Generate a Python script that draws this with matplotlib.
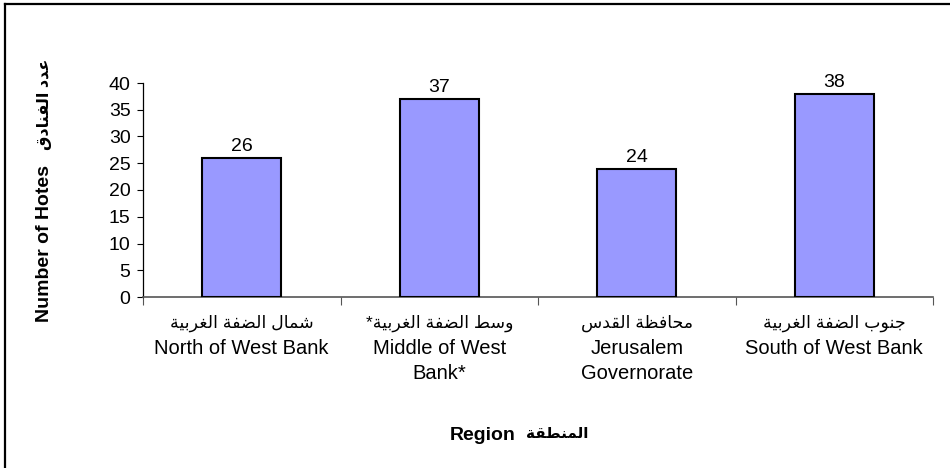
import matplotlib
matplotlib.use("Agg")
import matplotlib.pyplot as plt
from matplotlib.lines import Line2D

# Data
regions_ar = ["شمال الضفة الغربية", "وسط الضفة الغربية*", "محافظة القدس", "جنوب الضفة الغربية"]
regions_en = ["North of West Bank", "Middle of West\nBank*", "Jerusalem\nGovernorate", "South of West Bank"]
hotels = [26, 37, 24, 38]
y_ticks = [0, 5, 10, 15, 20, 25, 30, 35, 40]
ylabel_en = "Number of Hotes"
ylabel_ar = "عدد الفنادق"
xlabel_en = "Region"
xlabel_ar = "المنطقة"

# Arabic presentation forms: base isolated codepoint, dual-joining flag
FORMS = {
    "ا": (0xFE8D, False), "ب": (0xFE8F, True), "ة": (0xFE93, False),
    "ت": (0xFE95, True), "ج": (0xFE9D, True), "ح": (0xFEA1, True),
    "د": (0xFEA9, False), "ر": (0xFEAD, False), "س": (0xFEB1, True),
    "ش": (0xFEB5, True), "ض": (0xFEBD, True), "ط": (0xFEC1, True),
    "ظ": (0xFEC5, True), "ع": (0xFEC9, True), "غ": (0xFECD, True),
    "ف": (0xFED1, True), "ق": (0xFED5, True), "ل": (0xFEDD, True),
    "م": (0xFEE1, True), "ن": (0xFEE5, True), "و": (0xFEED, False),
    "ي": (0xFEF1, True),
}


def shape_ar(text):
    out = []
    for i, ch in enumerate(text):
        if ch not in FORMS:
            out.append(ch)
            continue
        base, dual = FORMS[ch]
        prev = text[i - 1] if i > 0 else ""
        nxt = text[i + 1] if i + 1 < len(text) else ""
        join_prev = prev in FORMS and FORMS[prev][1]
        join_next = dual and nxt in FORMS
        if join_prev and join_next:
            code = base + 3
        elif join_next:
            code = base + 2
        elif join_prev:
            code = base + 1
        else:
            code = base
        out.append(chr(code))
    return "".join(out)[::-1]


FONT = ["Liberation Sans", "DejaVu Sans"]
plt.rcParams["font.family"] = FONT

fig = plt.figure(figsize=(9.5, 4.68), dpi=100)
ax = fig.add_axes([143 / 950, 171 / 468, 790 / 950, 214 / 468])

x = list(range(len(hotels)))
ax.bar(x, hotels, width=0.4, color="#9999FF", edgecolor="black", linewidth=1.5, zorder=3)
for xi, v in zip(x, hotels):
    ax.annotate(str(v), (xi, v), xytext=(0, 2), textcoords="offset points",
                ha="center", va="bottom", fontsize=14)

ax.set_xlim(-0.5, len(hotels) - 0.5)
ax.set_ylim(0, 40)
ax.set_yticks(y_ticks)
ax.tick_params(axis="y", labelsize=14, direction="out", length=4, width=0.8, pad=5)
ax.set_xticks([i - 0.5 for i in range(len(hotels) + 1)])
ax.set_xticklabels([])
ax.tick_params(axis="x", direction="out", length=6, width=0.8, colors="#555555")

for side in ["top", "right"]:
    ax.spines[side].set_visible(False)
ax.spines["left"].set_linewidth(0.9)
ax.spines["bottom"].set_color("#555555")
ax.spines["bottom"].set_linewidth(1.2)

# Category labels: Arabic line over English lines
trans = ax.get_xaxis_transform()
for xi, ar, en in zip(x, regions_ar, regions_en):
    ax.text(xi, -26 / 214, shape_ar(ar), transform=trans, ha="center", va="center",
            fontsize=12.5)
    ax.text(xi, -42 / 214, en, transform=trans, ha="center", va="top",
            fontsize=14.5, linespacing=1.4)

# Axis titles: bold English with the Arabic title next to it
fig.text(45 / 950, 1 - 243 / 468, ylabel_en, rotation=90,
         ha="center", va="center", fontsize=14, fontweight="bold")
fig.text(44 / 950, 1 - 104 / 468, shape_ar(ylabel_ar), rotation=90,
         ha="center", va="center", fontsize=11.5, fontweight="bold")
fig.text(516 / 950, 1 - 436 / 468, xlabel_en,
         ha="right", va="center", fontsize=14, fontweight="bold")
fig.text(526 / 950, 1 - 434 / 468, shape_ar(xlabel_ar),
         ha="left", va="center", fontsize=11, fontweight="bold")

# Chart frame on the left and top edges
fig.add_artist(Line2D([5 / 950, 5 / 950], [0, 1 - 4 / 468], color="black", linewidth=1.6,
                      transform=fig.transFigure))
fig.add_artist(Line2D([5 / 950, 1], [1 - 4 / 468, 1 - 4 / 468], color="black", linewidth=1.6,
                      transform=fig.transFigure))

fig.savefig("out.png", dpi=100)
